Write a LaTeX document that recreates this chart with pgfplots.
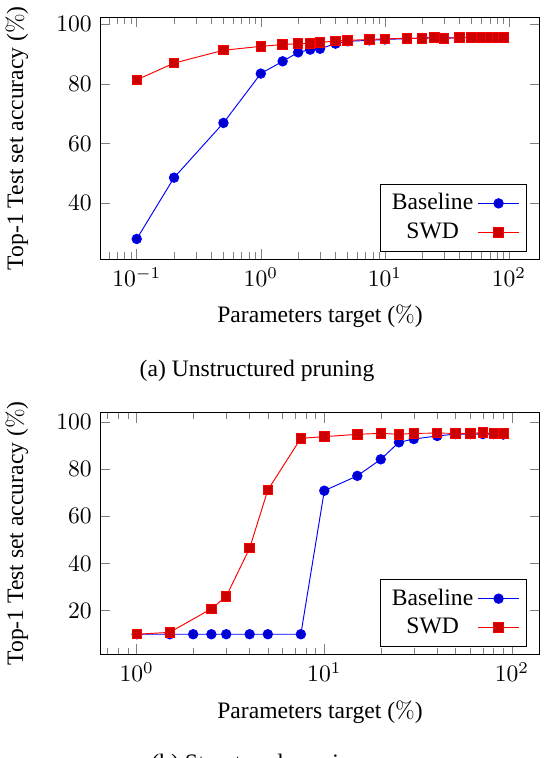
\documentclass[border=0pt]{standalone}
\usepackage[no-math]{fontspec}
\setmainfont{Liberation Serif}
\usepackage{pgfplots}
\pgfplotsset{compat=1.18}
\begin{document}
\begin{tikzpicture}
\useasboundingbox (0,0) rectangle (231.4pt,321.2pt);
\begin{axis}[xmode=log, scale only axis, width=186.4pt, height=102.5pt,
    xlabel={Parameters target ($\%$)},
    ylabel={Top-1 Test set accuracy ($\%$)},
    ylabel shift=5pt, xlabel shift=1pt,
    legend pos=south east, legend plot pos=right, legend cell align=center,
    at={(42.4pt,211.4pt)}, anchor=south west, ytick={40,60,80,100}]
\addplot coordinates {(0.1,28.1)(0.2,48.6)(0.5,66.9)(1,83.4)(1.5,87.5)(2,90.5)(2.5,91.4)(3,91.7)(4,93.4)(5,94.2)(7.5,94.5)(10,94.8)(15,95.1)(20,95.3)(25,95.4)(30,95.3)(40,95.4)(50,95.5)(60,95.5)(70,95.5)(80,95.5)(90,95.5)};
\addplot coordinates {(0.1,81.3)(0.2,86.9)(0.5,91.2)(1,92.5)(1.5,93.1)(2,93.4)(2.5,93.5)(3,93.8)(4,94.3)(5,94.5)(7.5,94.8)(10,95.0)(15,95.2)(20,95.2)(25,95.4)(30,95.1)(40,95.5)(50,95.5)(60,95.5)(70,95.5)(80,95.5)(90,95.5)};
\legend{Baseline,SWD}
\end{axis}
\node[anchor=base] at (108.9pt,161.6pt) {(a) Unstructured pruning};
\begin{axis}[xmode=log, scale only axis, width=186.4pt, height=102.5pt,
    xlabel={Parameters target ($\%$)},
    ylabel={Top-1 Test set accuracy ($\%$)},
    ylabel shift=5pt, xlabel shift=1pt,
    legend pos=south east, legend plot pos=right, legend cell align=center,
    at={(42.4pt,43.9pt)}, anchor=south west, ytick={20,40,60,80,100}]
\addplot coordinates {(1,10)(1.5,10)(2,10)(2.5,10)(3,10)(4,10)(5,10)(7.5,10)(10,70.8)(15,77.1)(20,84.1)(25,91.3)(30,92.7)(40,94.0)(50,94.8)(60,94.8)(70,94.8)(80,94.8)(90,94.6)};
\addplot coordinates {(1,10)(1.5,10.8)(2.5,20.8)(3,26.0)(4,46.5)(5,71.1)(7.5,93.0)(10,93.7)(15,94.7)(20,95.1)(25,94.7)(30,95.1)(40,95.2)(50,95.1)(60,95.1)(70,95.4)(80,95.1)(90,95.1)};
\legend{Baseline,SWD}
\end{axis}
\node[anchor=base] at (108.9pt,-5.1pt) {(b) Structured pruning};
\end{tikzpicture}
\end{document}
